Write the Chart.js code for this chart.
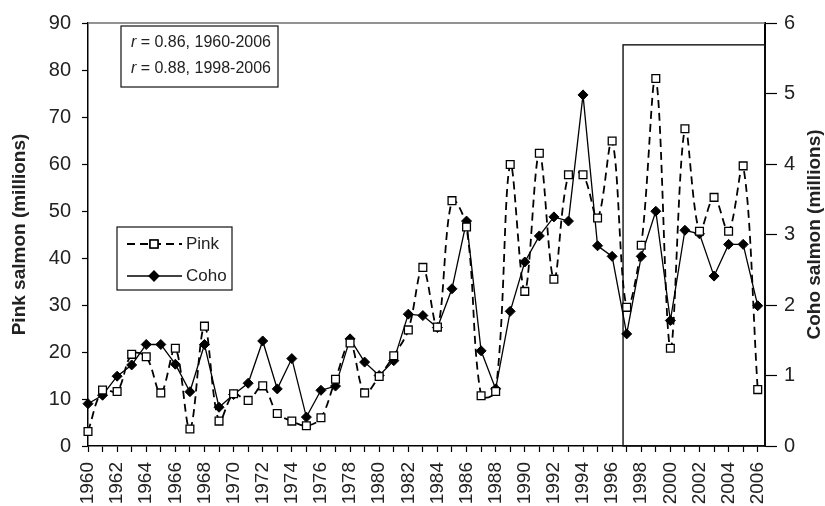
<!DOCTYPE html>
<html>
<head>
<meta charset="utf-8">
<script src="https://cdn.jsdelivr.net/npm/chart.js@4.4.0/dist/chart.umd.min.js"></script>
<style>
  html, body { margin: 0; padding: 0; background: #fff; }
  #chart { display: block; }
</style>
</head>
<body>
<canvas id="chart" width="825" height="506"></canvas>
<script>
// Years on the x axis
const years = [1960, 1961, 1962, 1963, 1964, 1965, 1966, 1967, 1968, 1969,
               1970, 1971, 1972, 1973, 1974, 1975, 1976, 1977, 1978, 1979,
               1980, 1981, 1982, 1983, 1984, 1985, 1986, 1987, 1988, 1989,
               1990, 1991, 1992, 1993, 1994, 1995, 1996, 1997, 1998, 1999,
               2000, 2001, 2002, 2003, 2004, 2005, 2006];

// Pink salmon (millions) - left axis
const pink = [3.1, 11.9, 11.6, 19.5, 19.0, 11.3, 20.8, 3.6, 25.5, 5.3,
              11.1, 9.7, 12.8, 6.9, 5.3, 4.3, 6.0, 14.2, 21.9, 11.3,
              14.8, 19.2, 24.7, 38.0, 25.3, 52.2, 46.6, 10.7, 11.6, 59.9,
              32.9, 62.3, 35.5, 57.7, 57.7, 48.5, 64.9, 29.5, 42.7, 78.2,
              20.8, 67.5, 45.7, 52.9, 45.7, 59.6, 12.0];

// Coho salmon (millions) - right axis
const coho = [0.60, 0.72, 0.99, 1.15, 1.44, 1.44, 1.16, 0.77, 1.44, 0.55,
              0.73, 0.89, 1.49, 0.81, 1.24, 0.41, 0.79, 0.85, 1.52, 1.19,
              1.00, 1.21, 1.87, 1.85, 1.68, 2.23, 3.19, 1.35, 0.81, 1.91,
              2.61, 2.98, 3.25, 3.19, 4.98, 2.84, 2.69, 1.59, 2.69, 3.33,
              1.78, 3.06, 3.01, 2.41, 2.86, 2.86, 1.99];

const leftTicks = [0, 10, 20, 30, 40, 50, 60, 70, 80, 90];
const rightTicks = [0, 1, 2, 3, 4, 5, 6];

// Highlighted period box (x start in years, top in coho units)
const boxStart = 1996.75;
const boxTop = 5.69;

const notes = [["r", " = 0.86, 1960-2006"], ["r", " = 0.88, 1998-2006"]];

const FONT = "'Liberation Sans', Arial, sans-serif";

// Extra drawing: top border, highlight box, note box, legend, right title
const extras = {
    id: 'extras',
    beforeDatasetsDraw(chart) {
        const ctx = chart.ctx;
        const a = chart.chartArea;
        const x = chart.scales.x;
        const y1 = chart.scales.y1;
        ctx.save();
        // top border of plot area
        ctx.strokeStyle = '#6e6e6e';
        ctx.lineWidth = 1.5;
        ctx.beginPath();
        ctx.moveTo(a.left, a.top);
        ctx.lineTo(a.right, a.top);
        ctx.stroke();
        // box round the last period
        const bx = x.getPixelForValue(boxStart);
        const by = y1.getPixelForValue(boxTop);
        ctx.strokeStyle = '#111';
        ctx.lineWidth = 1.4;
        ctx.strokeRect(bx, by, a.right - bx, a.bottom - by);
        ctx.restore();
    },
    afterDraw(chart) {
        const ctx = chart.ctx;
        const a = chart.chartArea;
        ctx.save();

        // note box with correlations
        ctx.fillStyle = '#fff';
        ctx.fillRect(121, 26, 157, 61);
        ctx.strokeStyle = '#111';
        ctx.lineWidth = 1.2;
        ctx.strokeRect(121, 26, 157, 61);
        ctx.fillStyle = '#222';
        ctx.textBaseline = 'middle';
        notes.forEach((n, i) => {
            const yy = 43 + i * 26;
            ctx.font = '16px ' + FONT;
            const restW = ctx.measureText(n[1]).width;
            ctx.textAlign = 'right';
            ctx.fillText(n[1], 271, yy);
            ctx.font = 'italic 16px ' + FONT;
            ctx.fillText(n[0], 271 - restW, yy);
        });

        // legend
        ctx.fillStyle = '#fff';
        ctx.fillRect(117, 227, 115, 63);
        ctx.strokeStyle = '#111';
        ctx.lineWidth = 1.2;
        ctx.strokeRect(117, 227, 115, 63);
        const ds = chart.data.datasets;
        [0, 1].forEach(i => {
            const yy = 244 + i * 32;
            ctx.strokeStyle = '#000';
            ctx.lineWidth = ds[i].borderWidth;
            ctx.setLineDash(ds[i].borderDash || []);
            ctx.beginPath();
            ctx.moveTo(127, yy);
            ctx.lineTo(182, yy);
            ctx.stroke();
            ctx.setLineDash([]);
            Chart.helpers.drawPoint(ctx, {
                pointStyle: ds[i].pointStyle,
                radius: ds[i].pointRadius,
                borderWidth: ds[i].pointBorderWidth,
                rotation: 0
            }, 154, yy);
            ctx.fillStyle = ds[i].pointBackgroundColor;
            ctx.strokeStyle = '#000';
            ctx.lineWidth = ds[i].pointBorderWidth;
            ctx.fill();
            ctx.stroke();
            ctx.fillStyle = '#222';
            ctx.font = '17px ' + FONT;
            ctx.textAlign = 'left';
            ctx.textBaseline = 'middle';
            ctx.fillText(ds[i].label, 186, yy);
        });

        // right axis title, reading upward
        ctx.translate(815, (a.top + a.bottom) / 2);
        ctx.rotate(-Math.PI / 2);
        ctx.font = 'bold 19px ' + FONT;
        ctx.fillStyle = '#222';
        ctx.textAlign = 'center';
        ctx.textBaseline = 'middle';
        ctx.fillText('Coho salmon (millions)', 0, 0);
        ctx.restore();
    }
};

const ctx = document.getElementById('chart').getContext('2d');
const chart = new Chart(ctx, {
    type: 'line',
    data: {
        datasets: [{
            label: 'Pink',
            data: years.map((yr, i) => ({ x: yr, y: pink[i] })),
            yAxisID: 'y',
            borderColor: '#000',
            borderWidth: 1.8,
            borderDash: [8, 5],
            tension: 0.35,
            pointStyle: 'rect',
            pointRadius: 5.5,
            pointBackgroundColor: '#fff',
            pointBorderColor: '#000',
            pointBorderWidth: 1.3,
            clip: false
        }, {
            label: 'Coho',
            data: years.map((yr, i) => ({ x: yr, y: coho[i] })),
            yAxisID: 'y1',
            borderColor: '#000',
            borderWidth: 1.3,
            tension: 0,
            pointStyle: 'rectRot',
            pointRadius: 5,
            pointBackgroundColor: '#000',
            pointBorderColor: '#000',
            pointBorderWidth: 1,
            clip: false
        }]
    },
    options: {
        responsive: false,
        animation: false,
        layout: { padding: { top: 22, left: 0, right: 0, bottom: 0 } },
        plugins: {
            legend: { display: false },
            tooltip: { enabled: false }
        },
        scales: {
            x: {
                type: 'linear',
                min: 1960,
                max: 2006.5,
                afterBuildTicks: s => { s.ticks = years.map(v => ({ value: v })); },
                afterFit: s => { s.height = 60; },
                grid: { drawOnChartArea: false, tickLength: 6, tickColor: '#000', tickWidth: 1.2 },
                border: { color: '#000', width: 1.5 },
                ticks: {
                    autoSkip: false,
                    minRotation: 90,
                    maxRotation: 90,
                    padding: 10,
                    color: '#222',
                    font: { family: FONT, size: 19 },
                    callback: v => (v % 2 === 0 ? String(v) : '')
                }
            },
            y: {
                position: 'left',
                min: 0,
                max: 90,
                afterBuildTicks: s => { s.ticks = leftTicks.map(v => ({ value: v })); },
                afterFit: s => { s.width = 88; },
                grid: { drawOnChartArea: false, tickLength: 6, tickColor: '#000', tickWidth: 1.2 },
                border: { color: '#000', width: 1.5 },
                ticks: { padding: 11, color: '#222', font: { family: FONT, size: 20 } },
                title: {
                    display: true,
                    text: 'Pink salmon (millions)',
                    color: '#222',
                    font: { family: FONT, size: 19, weight: 'bold' },
                    padding: { top: 8, bottom: 0 }
                }
            },
            y1: {
                position: 'right',
                min: 0,
                max: 6,
                afterBuildTicks: s => { s.ticks = rightTicks.map(v => ({ value: v })); },
                afterFit: s => { s.width = 60; },
                grid: { drawOnChartArea: false, tickLength: 12, tickColor: '#000', tickWidth: 1.2 },
                border: { color: '#000', width: 2 },
                ticks: { padding: 7, color: '#222', font: { family: FONT, size: 20 } }
            }
        }
    },
    plugins: [extras]
});
</script>
</body>
</html>
